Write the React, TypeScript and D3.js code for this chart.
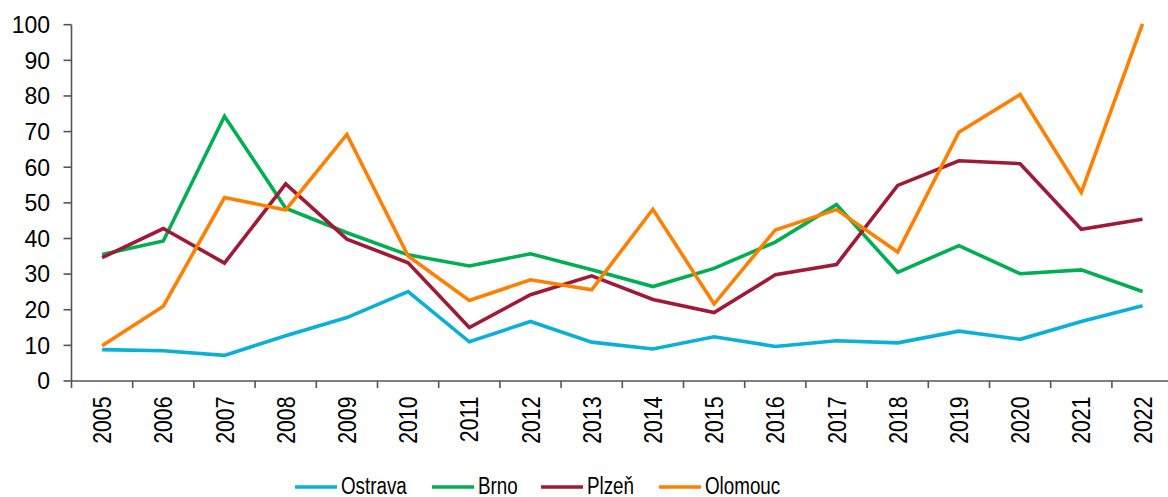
import React from "react";
import * as d3 from "d3";

const years = ["2005","2006","2007","2008","2009","2010","2011","2012","2013","2014","2015","2016","2017","2018","2019","2020","2021","2022"];
const ostrava = [8.8, 8.5, 7.2, 12.7, 17.8, 25.1, 11.0, 16.7, 10.9, 9.0, 12.4, 9.7, 11.3, 10.7, 14.0, 11.7, 16.7, 21.1];
const brno = [35.5, 39.3, 74.3, 48.5, 41.6, 35.4, 32.3, 35.7, 31.2, 26.5, 31.6, 39.0, 49.5, 30.5, 38.0, 30.1, 31.2, 25.1];
const plzen = [34.6, 42.8, 33.1, 55.3, 39.8, 33.2, 15.0, 24.2, 29.5, 22.9, 19.2, 29.8, 32.7, 54.9, 61.8, 61.0, 42.6, 45.4];
const olomouc = [9.9, 21.0, 51.5, 48.0, 69.2, 35.1, 22.6, 28.4, 25.6, 48.2, 21.6, 42.4, 48.1, 36.2, 69.8, 80.4, 52.9, 100.2];
const yTicks = [0, 10, 20, 30, 40, 50, 60, 70, 80, 90, 100];

const series = [
  { name: "Ostrava", values: ostrava, color: "#0AB0D8" },
  { name: "Brno", values: brno, color: "#00B050" },
  { name: "Plzeň", values: plzen, color: "#A01A38" },
  { name: "Olomouc", values: olomouc, color: "#FF7F00" },
];
const legendX = [295, 432, 541, 659];

export default function App() {
  const W = 1168, H = 497;
  const left = 71.5, bandW = 61.2;
  const x = d3.scaleBand<string>().domain(years).range([left, left + bandW * years.length]);
  const y = d3.scaleLinear().domain([0, 100]).range([381, 24.7]);
  const line = d3.line<number>().x((_, i) => (x(years[i]) as number) + x.bandwidth() / 2).y((d) => y(d));
  const font = "'Liberation Sans', Arial, sans-serif";
  const axisColor = "#555";
  return (
    <svg width={W} height={H} style={{ position: "absolute", left: 0, top: 0, background: "#fff" }} fontFamily={font}>
      {/* y axis */}
      <line x1={left} x2={left} y1={y(100)} y2={y(0)} stroke={axisColor} strokeWidth={1.6} />
      {yTicks.map((t) => (
        <g key={t}>
          <line x1={left - 8} x2={left} y1={y(t)} y2={y(t)} stroke={axisColor} strokeWidth={1.6} />
          <text x={50} y={y(t)} dy="0.36em" textAnchor="end" fontSize={23} fill="#000">{t}</text>
        </g>
      ))}
      {/* x axis */}
      <line x1={left} x2={left + bandW * years.length} y1={y(0)} y2={y(0)} stroke={axisColor} strokeWidth={1.6} />
      {years.map((yr, i) => (
        <line key={"t" + yr} x1={left + bandW * i} x2={left + bandW * i} y1={y(0)} y2={y(0) + 7} stroke={axisColor} strokeWidth={1.6} />
      ))}
      {years.map((yr) => {
        const cx = (x(yr) as number) + x.bandwidth() / 2;
        return (
          <text key={yr} transform={`translate(${cx + 9},396.5) rotate(-90) scale(0.85,1)`} textAnchor="end" fontSize={25} fill="#000">{yr}</text>
        );
      })}
      {/* lines */}
      {series.map((s) => (
        <path key={s.name} d={line(s.values) || ""} fill="none" stroke={s.color} strokeWidth={3.6} strokeLinejoin="miter" />
      ))}
      {/* legend */}
      {series.map((s, i) => (
        <g key={"l" + s.name}>
          <line x1={legendX[i]} x2={legendX[i] + 42} y1={487} y2={487} stroke={s.color} strokeWidth={3.6} />
          <text transform={`translate(${legendX[i] + 46},493.5) scale(0.8,1)`} fontSize={23.5} fill="#000">{s.name}</text>
        </g>
      ))}
    </svg>
  );
}
